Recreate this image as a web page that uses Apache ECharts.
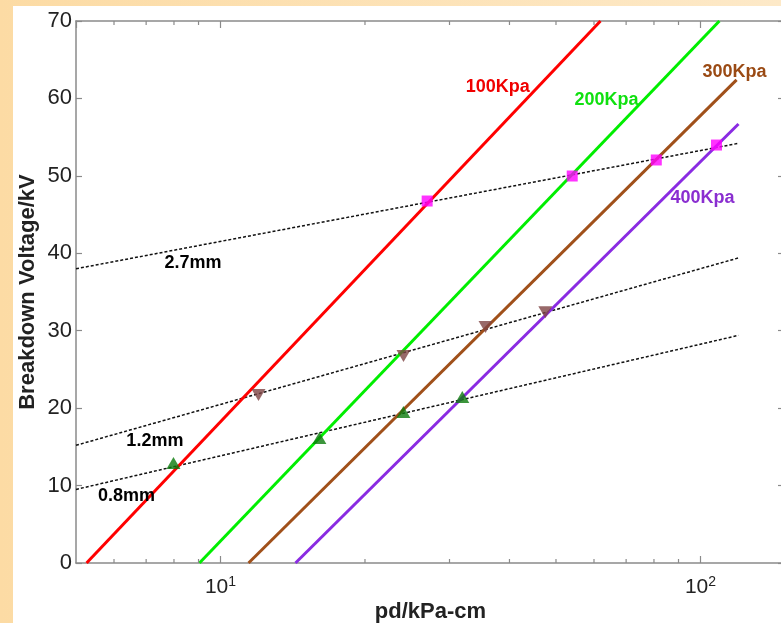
<!DOCTYPE html>
<html><head><meta charset="utf-8">
<script src="https://cdn.jsdelivr.net/npm/echarts@6/dist/echarts.min.js"></script>
<style>html,body{margin:0;padding:0;background:#fff}#c{width:781px;height:623px}</style>
</head><body><div id="c"></div>
<script>
// Solid pressure lines (pd in kPa-cm, breakdown voltage in kV)
const p100X = [5.26, 61.9],  p100Y = [0, 70];
const p200X = [9.04, 109.5], p200Y = [0, 70];
const p300X = [11.44, 118.9], p300Y = [0, 62.4];
const p400X = [14.33, 120],  p400Y = [0, 56.7];
// Dashed gap lines
const g27X = [5, 120], g27Y = [38.0, 54.2];
const g12X = [5, 120], g12Y = [15.2, 39.4];
const g08X = [5, 120], g08Y = [9.5, 29.4];
// Markers
const sqX = [26.95, 54.05, 80.9, 108],  sqY = [46.75, 49.98, 52.05, 53.98];
const dnX = [12.0, 24.06, 35.66, 47.5], dnY = [21.7, 26.73, 30.48, 32.4];
const upX = [7.98, 16.07, 24.05, 31.9], upY = [12.9, 16.14, 19.5, 21.44];
// Axis ticks
const yMin = 0, yMax = 70, yStep = 10;
const xMin = 5, xMax = 150;
const xMinorTicks = [6, 7, 8, 9, 20, 30, 40, 50, 60, 70, 80, 90];
// Annotation texts and their anchors (data space)
const annTexts = ['100Kpa', '200Kpa', '300Kpa', '400Kpa', '2.7mm', '1.2mm', '0.8mm'];
const annX = [37.8, 63.7, 117.7, 101, 8.76, 7.30, 6.37];
const annY = [61.5, 59.8, 63.4, 47.1, 38.7, 15.8, 8.6];

const FONT = 'Liberation Sans, Arial, sans-serif';
const RED = '#ff0000', GREEN = '#00ee00', BROWN = '#a0501a', PURPLE = '#8a2be2';
const annColors = ['#f00000', '#10e010', '#9a4a14', '#8a2ed0', '#000', '#000', '#000'];

const zip = (xs, ys) => xs.map((x, i) => [x, ys[i]]);

function solid(name, xs, ys, color) {
  return { name, type: 'line', data: zip(xs, ys), showSymbol: false, symbol: 'none',
    lineStyle: { color, width: 3 }, z: 3, silent: true, animation: false };
}
function dashed(name, xs, ys) {
  return { name, type: 'line', data: zip(xs, ys), showSymbol: false, symbol: 'none',
    lineStyle: { color: '#111', width: 1.5, type: [3, 2] }, z: 2, silent: true, animation: false };
}

const axisColor = '#8a8a8a';
function xLabelFmt(v) {
  const l = Math.log10(v), r = Math.round(l);
  if (Math.abs(l - r) < 1e-6 && (r === 1 || r === 2)) return '{b|10}{s|' + r + '}';
  return '';
}

const chart = echarts.init(document.getElementById('c'), null, { renderer: 'canvas' });
chart.setOption({
  animation: false,
  backgroundColor: new echarts.graphic.LinearGradient(0, 0, 1, 0, [
    { offset: 0, color: '#fcdba4' }, { offset: 1, color: '#fde9c8' }]),
  graphic: [{ type: 'rect', left: 13, top: 6, shape: { width: 800, height: 640 },
    style: { fill: '#ffffff' }, z: -10, silent: true }],
  grid: { left: 76, top: 21, width: 709, height: 542, containLabel: false, outerBoundsMode: 'none' },
  xAxis: [{
    type: 'log', logBase: 10, min: xMin, max: xMax, position: 'bottom',
    axisLine: { show: true, onZero: false, lineStyle: { color: axisColor, width: 1.5 } },
    axisTick: { show: true, inside: true, length: 7, lineStyle: { color: axisColor, width: 1.2 } },
    axisLabel: { formatter: xLabelFmt, margin: 12, showMinLabel: false, showMaxLabel: false,
      rich: { b: { fontSize: 21, color: '#222', fontFamily: FONT, lineHeight: 24 },
              s: { fontSize: 14, color: '#222', fontFamily: FONT, lineHeight: 14, verticalAlign: 'top' } } },
    splitLine: { show: false }, minorTick: { show: false },
    name: 'pd/kPa-cm', nameLocation: 'middle', nameGap: 38, nameMoveOverlap: false,
    nameTextStyle: { fontWeight: 'bold', fontSize: 22, color: '#222', fontFamily: FONT }
  }, {
    type: 'log', logBase: 10, min: xMin, max: xMax, position: 'top',
    axisLine: { show: true, onZero: false, lineStyle: { color: axisColor, width: 1.5 } },
    axisTick: { show: true, inside: true, length: 7, lineStyle: { color: axisColor, width: 1.2 } },
    axisLabel: { show: false }, splitLine: { show: false }
  }],
  yAxis: [{
    type: 'value', min: yMin, max: yMax, interval: yStep, position: 'left',
    axisLine: { show: true, onZero: false, lineStyle: { color: axisColor, width: 1.5 } },
    axisTick: { show: true, inside: true, length: 6, lineStyle: { color: axisColor, width: 1.2 } },
    axisLabel: { fontSize: 22, color: '#222', fontFamily: FONT, margin: 4 },
    splitLine: { show: false },
    name: 'Breakdown Voltage/kV', nameLocation: 'middle', nameGap: 37, nameRotate: 90,
    nameMoveOverlap: false,
    nameTextStyle: { fontWeight: 'bold', fontSize: 22, color: '#222', fontFamily: FONT }
  }, {
    type: 'value', min: yMin, max: yMax, interval: yStep, position: 'right',
    axisLine: { show: true, onZero: false, lineStyle: { color: axisColor, width: 1.5 } },
    axisTick: { show: true, inside: true, length: 7, lineStyle: { color: axisColor, width: 1.2 } },
    axisLabel: { show: false }, splitLine: { show: false }
  }],
  series: [
    dashed('2.7mm', g27X, g27Y),
    dashed('1.2mm', g12X, g12Y),
    dashed('0.8mm', g08X, g08Y),
    solid('100Kpa', p100X, p100Y, RED),
    solid('200Kpa', p200X, p200Y, GREEN),
    solid('300Kpa', p300X, p300Y, BROWN),
    solid('400Kpa', p400X, p400Y, PURPLE),
    { type: 'scatter', data: zip(sqX, sqY), symbol: 'rect', symbolSize: 11,
      itemStyle: { color: '#ff00ff' }, z: 4, silent: true },
    { type: 'scatter', data: zip(dnX, dnY), symbol: 'triangle', symbolSize: [14, 12], symbolRotate: 180,
      itemStyle: { color: '#7e4444' }, z: 4, silent: true },
    { type: 'scatter', data: zip(upX, upY), symbol: 'triangle', symbolSize: [14, 12],
      itemStyle: { color: '#0b7a0b' }, z: 4, silent: true },
    { type: 'custom', silent: true, z: 5, clip: false,
      data: xMinorTicks.map(v => [v]),
      renderItem: (params, api) => {
        const b = api.coord([api.value(0), yMin]);
        const t = api.coord([api.value(0), yMax]);
        const st = { stroke: axisColor, lineWidth: 1.2 };
        return { type: 'group', children: [
          { type: 'line', shape: { x1: b[0], y1: b[1], x2: b[0], y2: b[1] - 4 }, style: st },
          { type: 'line', shape: { x1: t[0], y1: t[1], x2: t[0], y2: t[1] + 4 }, style: st }
        ] };
      } },
    { type: 'scatter', silent: true, z: 6, symbolSize: 1, itemStyle: { color: 'rgba(0,0,0,0)' },
      data: annTexts.map((t, i) => ({ value: [annX[i], annY[i]],
        label: { show: true, position: 'inside', formatter: t, color: annColors[i], opacity: 1,
          textBorderWidth: 0, fontSize: 18, fontWeight: 'bold', fontFamily: FONT } })) }
  ]
});
</script></body></html>
